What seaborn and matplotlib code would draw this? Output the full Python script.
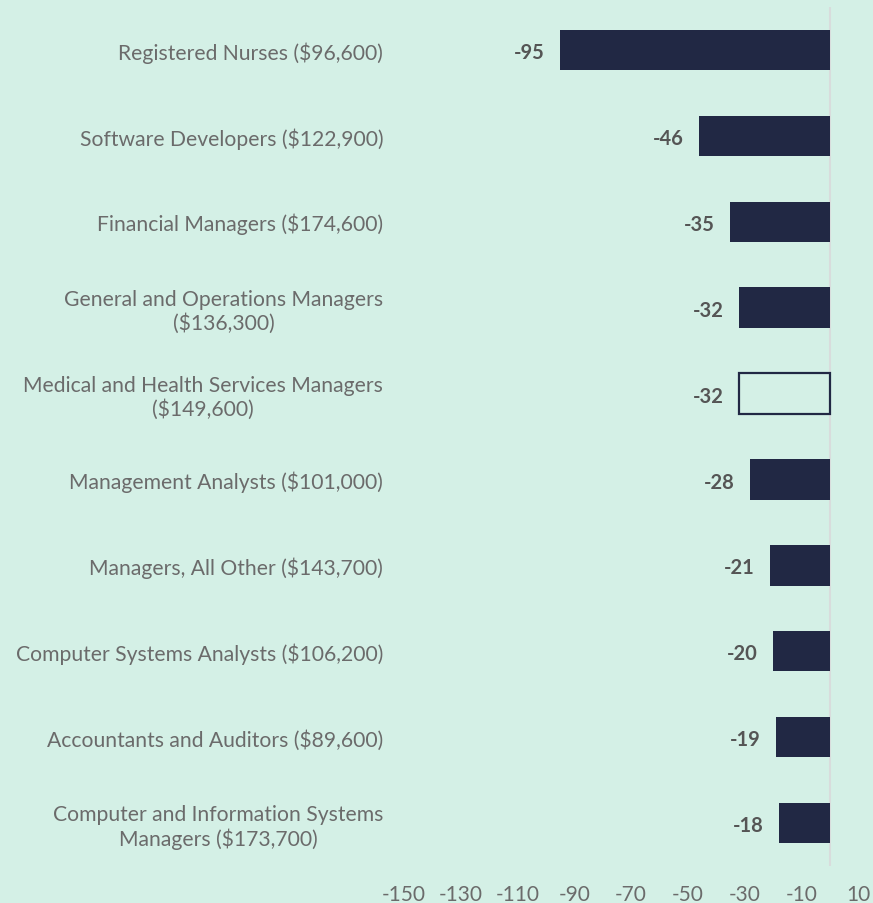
import matplotlib
matplotlib.use("Agg")
import matplotlib.pyplot as plt
import seaborn as sns
import pandas as pd

categories = [
    "Registered Nurses ($96,600)",
    "Software Developers ($122,900)",
    "Financial Managers ($174,600)",
    "General and Operations Managers\n($136,300)",
    "Medical and Health Services Managers\n($149,600)",
    "Management Analysts ($101,000)",
    "Managers, All Other ($143,700)",
    "Computer Systems Analysts ($106,200)",
    "Accountants and Auditors ($89,600)",
    "Computer and Information Systems\nManagers ($173,700)",
]
values = [-95, -46, -35, -32, -32, -28, -21, -20, -19, -18]
hollow = [False, False, False, False, True, False, False, False, False, False]
xticks = [-150, -130, -110, -90, -70, -50, -30, -10, 10]

BG = "#d4f0e6"
BAR = "#212844"

sns.set_theme(style="white")
plt.rcParams["font.family"] = ["Lato", "DejaVu Sans"]

df = pd.DataFrame({"cat": categories, "val": values})

fig = plt.figure(figsize=(8.73, 9.04), dpi=100, facecolor=BG)
ax = fig.add_axes([404/873, 1 - 867/904, 454/873, 859/904])
ax.set_facecolor(BG)

sns.barplot(data=df, x="val", y="cat", orient="h", color=BAR, width=0.47,
            saturation=1, linewidth=0, ax=ax)

for patch, h in zip(ax.patches, hollow):
    if h:
        patch.set_facecolor(BG)
        patch.set_edgecolor(BAR)
        patch.set_linewidth(1.6)

for i, v in enumerate(values):
    ax.annotate(f"{v}", xy=(v, i), xytext=(-11, -1.5), textcoords="offset points",
                ha="right", va="center", fontsize=14.5, fontweight="bold",
                color="#555555")

ax.set_xlim(-150, 10)
ax.set_ylim(9.5, -0.5)
ax.set_xticks(xticks)
ax.set_xticklabels([str(t) for t in xticks])
ax.set_xlabel("")
ax.set_ylabel("")
ax.axvline(0, color="#d8dcdc", lw=1.5, zorder=0)
for s in ax.spines.values():
    s.set_visible(False)
ax.tick_params(axis="x", length=0, pad=13, labelsize=15, labelcolor="#6b6b6b")
ax.tick_params(axis="y", length=0, pad=15, labelsize=15.2, labelcolor="#6b6b6b")
for lbl in ax.get_yticklabels():
    lbl.set_multialignment("center")
ax.grid(False)

fig.savefig("out.png", dpi=100, facecolor=BG)
